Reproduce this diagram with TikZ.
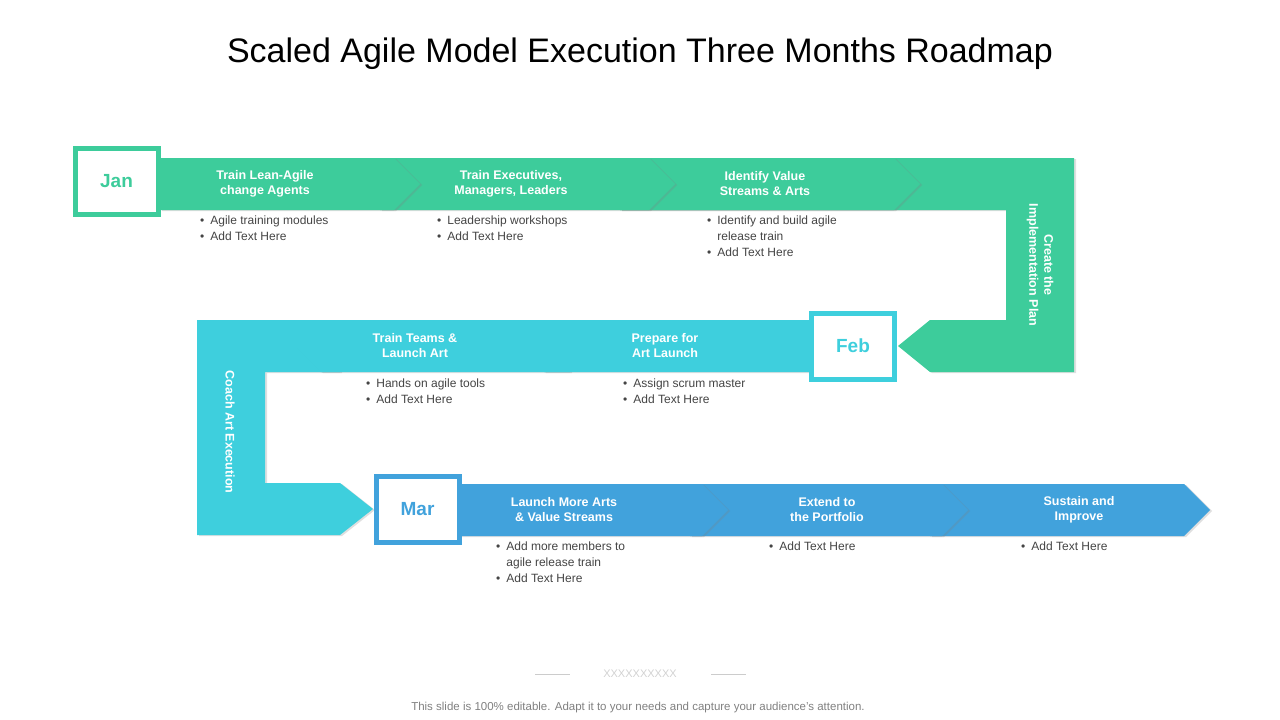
\documentclass[tikz,border=0pt]{standalone}
\usepackage{fontspec}
\setmainfont{Liberation Sans}
\usetikzlibrary{shadows}
\definecolor{cgreen}{HTML}{3DCC9B}
\definecolor{ccyan}{HTML}{3ECFDD}
\definecolor{cblue}{HTML}{41A2DC}
\definecolor{ctxt}{HTML}{444444}
\tikzset{
  band/.style={fill=#1, draw=none, drop shadow={shadow xshift=2pt, shadow yshift=-1pt, opacity=.25}},
  head/.style={text=white, font=\bfseries\fontsize{12.5}{15}\selectfont, align=center},
  bul/.style={text=ctxt, font=\fontsize{12}{16}\selectfont, align=left, anchor=north west, inner sep=0pt},
  month/.style={draw=#1, line width=5pt, fill=white, text=#1, font=\bfseries\fontsize{19}{22}\selectfont, minimum width=83pt, minimum height=66pt, inner sep=0pt, drop shadow={shadow xshift=1pt, shadow yshift=-1pt, opacity=.3}},
}
\newcommand{\bt}{\textbullet\enspace}
\newcommand{\bi}{\phantom{\textbullet\enspace}}
\begin{document}
\begin{tikzpicture}[x=1pt,y=-1pt]
\useasboundingbox (0,0) rectangle (1280,720);
\node (title) at (640,54) {\fontsize{34}{40}\selectfont Scaled Agile Model Execution Three Months Roadmap};
% green row
\fill[band=cgreen] (620,158)--(1074,158)--(1074,372)--(930,372)--(898,346)--(930,320)--(1006,320)--(1006,210)--(620,210)--cycle;
\fill[band=cgreen] (620,158)--(894,158)--(920,184)--(894,210)--(620,210)--cycle;
\fill[band=cgreen] (380,158)--(649,158)--(675,184)--(649,210)--(380,210)--cycle;
\fill[band=cgreen] (160,158)--(394,158)--(420,184)--(394,210)--(160,210)--cycle;
\node[month=cgreen] (jan) at (116.5,181) {Jan};
\node[head] (g1) at (265,184) {Train Lean-Agile\\change Agents};
\node[head] (g2) at (511,184) {Train Executives,\\Managers, Leaders};
\node[head] (g3) at (765,184) {Identify Value\\Streams \& Arts};
\node[head, rotate=-90] (g4) at (1040,265) {Create the\\Implementation Plan};
\node[bul] (b1) at (200,216) {\bt Agile training modules\\\bt Add Text Here};
\node[bul] (b2) at (437,216) {\bt Leadership workshops\\\bt Add Text Here};
\node[bul] (b3) at (707,216) {\bt Identify and build agile\\\bi release train\\\bt Add Text Here};
% cyan row
\fill[band=ccyan] (197,320)--(340,320)--(340,372)--(265,372)--(265,483)--(340,483)--(373,509)--(340,535)--(197,535)--cycle;
\fill[band=ccyan] (570,320)--(321,320)--(295,346)--(321,372)--(570,372)--cycle;
\fill[band=ccyan] (820,320)--(544,320)--(518,346)--(544,372)--(820,372)--cycle;
\node[month=ccyan] (feb) at (853,346) {Feb};
\node[head] (c1) at (415,346) {Train Teams \&\\Launch Art};
\node[head] (c2) at (665,346) {Prepare for\\Art Launch};
\node[head, rotate=-90] (c3) at (230,432) {Coach Art  Execution};
\node[bul] (b4) at (366,379) {\bt Hands on agile tools\\\bt Add Text Here};
\node[bul] (b5) at (623,379) {\bt Assign scrum master\\\bt Add Text Here};
% blue row
\fill[band=cblue] (930,484)--(1184,484)--(1210,510)--(1184,536)--(930,536)--cycle;
\fill[band=cblue] (690,484)--(942,484)--(968,510)--(942,536)--(690,536)--cycle;
\fill[band=cblue] (440,484)--(702,484)--(728,510)--(702,536)--(440,536)--cycle;
\node[month=cblue] (mar) at (417.5,509) {Mar};
\node[head] (l1) at (564,510) {Launch More Arts\\\& Value Streams};
\node[head] (l2) at (827,510) {Extend to\\the Portfolio};
\node[head] (l3) at (1079,510) {Sustain and\\Improve};
\node[bul] (b6) at (496,542) {\bt Add more members to\\\bi agile release train\\\bt Add Text Here};
\node[bul] (b7) at (769,542) {\bt Add Text Here};
\node[bul] (b8) at (1021,542) {\bt Add Text Here};
% footer
\coordinate (f1) at (535,674); \coordinate (f2) at (570,674);
\coordinate (f3) at (711,674); \coordinate (f4) at (746,674);
\draw[gray!40] (f1)--(f2) (f3)--(f4);
\node[text=gray!35, font=\fontsize{11}{12}\selectfont] (xx) at (640,674) {XXXXXXXXXX};
\node[text=gray, font=\fontsize{11.5}{13}\selectfont] (foot) at (638,708) {This slide is 100\% editable. Adapt it to your needs and capture your audience's attention.};
\end{tikzpicture}
\end{document}
